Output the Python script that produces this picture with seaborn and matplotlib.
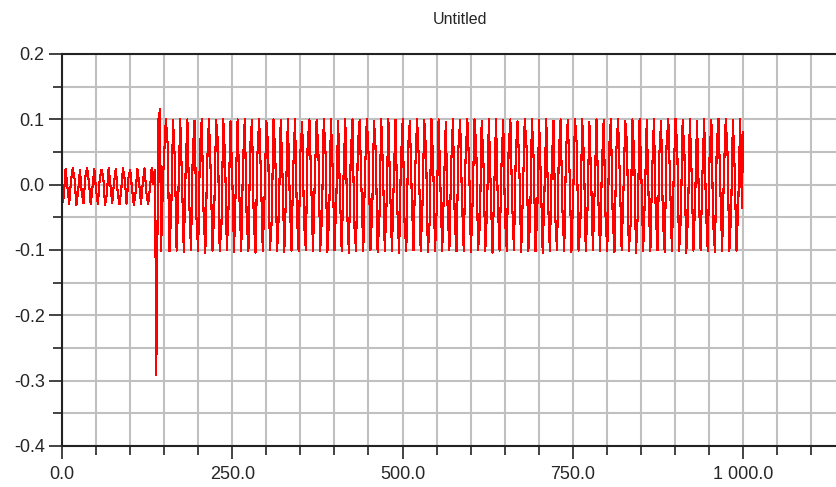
import numpy as np
import pandas as pd
import matplotlib
matplotlib.use('Agg')
import matplotlib.pyplot as plt
import seaborn as sns
from matplotlib.ticker import MultipleLocator, FuncFormatter

# period of the oscillation, read from the peak spacing
cycle = 10.54

# small oscillation before the step (trough, shoulder, peak, shoulder per cycle)
early_troughs = [-0.030, -0.029, -0.031, -0.028, -0.030, -0.029, -0.031,
                 -0.028, -0.030, -0.029, -0.031, -0.029, -0.030]
early_mids_up = [-0.018, 0.006, -0.010, 0.012, -0.004, 0.008, -0.014,
                 0.004, -0.008, 0.010, -0.012, 0.002, -0.006]
early_peaks = [0.024, 0.025, 0.023, 0.025, 0.024, 0.023, 0.025,
               0.024, 0.025, 0.023, 0.024, 0.025, 0.026]
early_mids = [-0.004, 0.009, -0.012, 0.004, -0.009, 0.011, -0.002,
              -0.011, 0.007, -0.006, 0.003, -0.012, 0.001]

# the step itself
trans_time = [136.0, 137.3, 138.2, 139.0, 141.4, 144.0, 145.4, 148.8]
trans_vals = [0.022, -0.093, -0.292, -0.240, 0.098, 0.116, -0.101, 0.020]

# big oscillation after the step (peak, shoulder, trough, shoulder per cycle)
main_start = 152.5
main_peaks = [
    0.100, 0.099, 0.101, 0.100, 0.098, 0.100, 0.101, 0.099, 0.100, 0.097,
    0.100, 0.101, 0.099, 0.100, 0.098, 0.100, 0.099, 0.101, 0.100, 0.096,
    0.100, 0.099, 0.101, 0.100, 0.098, 0.100, 0.100, 0.099, 0.101, 0.097,
    0.100, 0.101, 0.099, 0.100, 0.098, 0.100, 0.099, 0.101, 0.100, 0.096,
    0.100, 0.099, 0.101, 0.100, 0.098, 0.100, 0.101, 0.099, 0.100, 0.097,
    0.100, 0.101, 0.099, 0.100, 0.098, 0.100, 0.099, 0.101, 0.100, 0.096,
    0.100, 0.099, 0.101, 0.100, 0.098, 0.100, 0.101, 0.099, 0.100, 0.097,
    0.100, 0.101, 0.099, 0.100, 0.098, 0.100, 0.099, 0.101, 0.100, 0.099]
main_mids = [
    0.062, 0.038, 0.006, -0.024, -0.048, -0.041, 0.018, 0.066, 0.041, 0.012,
    -0.019, -0.046, -0.056, 0.012, 0.058, 0.044, 0.015, -0.016, -0.043, -0.058,
    0.004, 0.052, 0.047, 0.020, -0.012, -0.040, -0.060, -0.005, 0.045, 0.050,
    0.024, -0.008, -0.037, -0.057, -0.014, 0.038, 0.053, 0.028, -0.004, -0.033,
    -0.055, -0.022, 0.031, 0.056, 0.032, 0.001, -0.029, -0.052, -0.030, 0.024,
    0.058, 0.036, 0.005, -0.025, -0.049, -0.038, 0.017, 0.061, 0.040, 0.009,
    -0.021, -0.046, -0.047, 0.010, 0.063, 0.043, 0.013, -0.017, -0.043, -0.055,
    0.003, 0.057, 0.046, 0.017, -0.013, -0.040, -0.059, -0.006, 0.049, 0.022]
main_troughs = [
    -0.102, -0.101, -0.103, -0.100, -0.102, -0.104, -0.101, -0.102, -0.100, -0.103,
    -0.101, -0.102, -0.104, -0.101, -0.100, -0.102, -0.103, -0.101, -0.102, -0.100,
    -0.102, -0.101, -0.103, -0.100, -0.102, -0.104, -0.101, -0.102, -0.100, -0.103,
    -0.101, -0.102, -0.104, -0.101, -0.100, -0.102, -0.103, -0.101, -0.102, -0.100,
    -0.102, -0.101, -0.103, -0.100, -0.102, -0.104, -0.101, -0.102, -0.100, -0.103,
    -0.101, -0.102, -0.104, -0.101, -0.100, -0.102, -0.103, -0.101, -0.102, -0.100,
    -0.102, -0.101, -0.103, -0.100, -0.102, -0.104, -0.101, -0.102, -0.100, -0.103,
    -0.101, -0.102, -0.104, -0.101, -0.100, -0.102, -0.103, -0.101, -0.102, -0.101]
main_mids_up = [
    -0.040, -0.012, 0.020, 0.048, 0.055, 0.030, -0.035, -0.060, -0.030, 0.002,
    0.034, 0.057, 0.045, -0.018, -0.055, -0.042, -0.010, 0.025, 0.050, 0.060,
    0.008, -0.048, -0.050, -0.022, 0.012, 0.041, 0.059, 0.020, -0.040, -0.054,
    -0.028, 0.006, 0.036, 0.058, 0.026, -0.032, -0.058, -0.034, -0.002, 0.030,
    0.054, 0.038, -0.022, -0.060, -0.038, -0.006, 0.026, 0.052, 0.046, -0.012,
    -0.057, -0.040, -0.008, 0.022, 0.049, 0.052, -0.016, -0.059, -0.036, -0.004,
    0.028, 0.054, 0.050, -0.010, -0.061, -0.045, -0.014, 0.019, 0.046, 0.058,
    0.012, -0.050, -0.048, -0.020, 0.014, 0.043, 0.060, 0.018, -0.044, -0.030]

end_time = [995.8, 998.5, 1000.0]
end_vals = [0.100, -0.035, 0.080]


def build_series():
    '''sample lists -> one time/value table'''
    early = np.column_stack([early_troughs, early_mids_up,
                             early_peaks, early_mids]).ravel()
    early_t = np.arange(len(early)) * cycle / 4
    main = np.column_stack([main_peaks, main_mids,
                            main_troughs, main_mids_up]).ravel()
    main_t = main_start + np.arange(len(main)) * cycle / 4
    t = np.concatenate([early_t, trans_time, main_t, end_time])
    v = np.concatenate([early, trans_vals, main, end_vals])
    return pd.DataFrame({'time': t, 'value': v})


df = build_series()

sns.set_style('white')
plt.rcParams['font.family'] = ['Liberation Sans', 'DejaVu Sans']

W, H = 837, 487
fig = plt.figure(figsize=(W / 100, H / 100), dpi=100)
ax = fig.add_axes([62 / W, 41 / H, 1 - 62 / W, 392 / H])

# the source plot is drawn without smoothing, so each stroke lands on pixel columns
sns.lineplot(data=df, x='time', y='value', color='#ff0000', lw=0.8,
             sort=False, estimator=None, antialiased=False, ax=ax)

ax.set_xlim(0, (W - 62) / 0.681)
ax.set_ylim(-0.4, 0.2)
ax.xaxis.set_major_locator(MultipleLocator(250))
ax.xaxis.set_minor_locator(MultipleLocator(50))
ax.yaxis.set_major_locator(MultipleLocator(0.1))
ax.yaxis.set_minor_locator(MultipleLocator(0.05))
ax.xaxis.set_major_formatter(FuncFormatter(lambda v, p: f'{v:,.1f}'.replace(',', ' ')))
ax.yaxis.set_major_formatter(FuncFormatter(lambda v, p: f'{round(v, 2) + 0:.1f}'))

ax.set_axisbelow(True)
ax.grid(which='both', color='#c0c0c0', lw=1.5)
ax.tick_params(which='major', length=9.5, width=1.2, color='#222222',
               labelsize=13, direction='out', pad=3)
ax.tick_params(which='minor', length=6.5, width=1.2, color='#222222',
               direction='out')
ax.tick_params(axis='x', which='major', pad=5)
ax.tick_params(left=True, bottom=True, which='both')

for side in ['left', 'bottom', 'top']:
    ax.spines[side].set_color('#222222')
    ax.spines[side].set_linewidth(1.5)
ax.spines['right'].set_visible(False)

ax.set_xlabel('')
ax.set_ylabel('')
fig.text(460 / W, 1 - 20 / H, 'Untitled', fontsize=11.5, ha='center', va='center')

fig.savefig('out.png', dpi=100)
